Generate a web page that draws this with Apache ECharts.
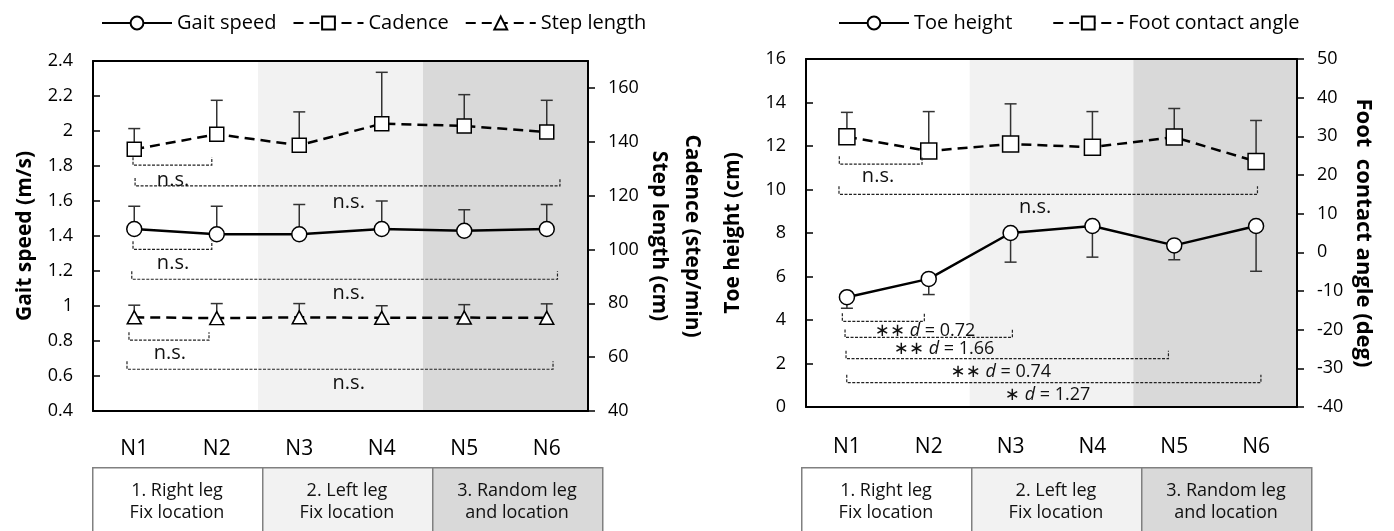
<!DOCTYPE html>
<html>
<head>
<meta charset="utf-8">
<script src="https://cdn.jsdelivr.net/npm/echarts@6/dist/echarts.min.js"></script>
<style>
  html, body { margin: 0; padding: 0; background: #fff; }
  #main { width: 1394px; height: 531px; }
</style>
</head>
<body>
<div id="main"></div>
<script>
const categories = ['N1', 'N2', 'N3', 'N4', 'N5', 'N6'];

// left panel (mean, SD)
const gaitSpeed = [1.44, 1.41, 1.41, 1.44, 1.43, 1.44];
const gaitSpeedSd = [0.13, 0.16, 0.17, 0.16, 0.12, 0.14];
const cadence = [137.2, 142.8, 138.7, 146.7, 145.9, 143.6];
const cadenceSd = [7.7, 12.6, 12.4, 19.1, 11.6, 11.8];
const stepLength = [74.8, 74.5, 74.8, 74.6, 74.7, 74.6];
const stepLengthSd = [4.5, 5.4, 5.1, 4.5, 4.8, 5.2];

// right panel (mean, SD)
const toeHeight = [5.05, 5.89, 8.0, 8.32, 7.43, 8.32];
const toeHeightSd = [0.51, 0.72, 1.34, 1.43, 0.66, 2.08];
const footAngle = [29.9, 26.2, 28.0, 27.2, 29.8, 23.5];
const footAngleSd = [6.3, 10.2, 10.4, 9.2, 7.4, 10.6];

// condition blocks (x range in category units)
const blocks = [[-0.5, 1.5], [1.5, 3.5], [3.5, 5.5]];
const blockNames = ['1. Right leg\nFix location', '2. Left leg\nFix location', '3. Random leg\nand location'];
const blockColors = ['#ffffff', '#f2f2f2', '#d9d9d9'];

// significance brackets: [from, to, level] (level in the axis of that series)
const gaitBrackets = [[-0.015, 0.94, 1.324], [-0.03, 5.13, 1.153]];
const cadenceBrackets = [[-0.015, 0.94, 131.3], [0.01, 5.16, 123.6]];
const stepBrackets = [[-0.064, 0.906, 66.3], [-0.088, 5.076, 55.5]];
const toeBrackets = [[-0.056, 0.946, 3.94], [-0.023, 2.022, 3.2], [-0.011, 3.929, 2.22], [-0.002, 5.059, 1.12]];
const footBrackets = [[-0.093, 0.918, 22.8], [-0.097, 5.017, 15.0]];

// notes: [x, y] and text
const gaitNotes = [[0.47, 1.244], [2.6, 1.073]];
const cadenceNotes = [[0.47, 125.7], [2.6, 117.5]];
const stepNotes = [[0.433, 61.4], [2.6, 50.3]];
const footNotes = [[0.38, 19.7], [2.3, 11.7]];
const toeNotes = [[0.955, 3.51], [1.187, 2.69], [1.881, 1.63], [2.452, 0.55]];
const toeNoteText = ['∗∗ {i|d} = 0.72', '∗∗ {i|d} = 1.66', '∗∗ {i|d} = 0.74', '∗ {i|d} = 1.27'];

const FONT = "'Open Sans', 'DejaVu Sans', sans-serif";
const chart = echarts.init(document.getElementById('main'));

function renderBand(params, api) {
  const cs = params.coordSys;
  const a = api.coord([api.value(0), api.value(2)]);
  const b = api.coord([api.value(1), api.value(2)]);
  return {
    type: 'rect',
    shape: {x: a[0], y: cs.y, width: b[0] - a[0], height: cs.height},
    style: {fill: blockColors[params.dataIndex]}
  };
}

function renderErr(params, api) {
  const a = api.coord([api.value(0), api.value(1)]);
  const b = api.coord([api.value(0), api.value(2)]);
  const st = {stroke: '#333', lineWidth: 1.5};
  return {
    type: 'group',
    children: [
      {type: 'line', shape: {x1: a[0], y1: a[1], x2: b[0], y2: b[1]}, style: st},
      {type: 'line', shape: {x1: b[0] - 6, y1: b[1], x2: b[0] + 6, y2: b[1]}, style: st}
    ]
  };
}

function renderBracket(params, api) {
  const a = api.coord([api.value(0), api.value(2)]);
  const b = api.coord([api.value(1), api.value(2)]);
  return {
    type: 'polyline',
    shape: {points: [[a[0], a[1] - 8], [a[0], a[1]], [b[0], b[1]], [b[0], b[1] - 8]]},
    style: {fill: null, stroke: '#222', lineWidth: 1.2, lineDash: [3, 1.5]}
  };
}

function noteRenderer(texts) {
  return function (params, api) {
    const p = api.coord([api.value(0), api.value(1)]);
    return {
      type: 'text',
      x: p[0], y: p[1],
      style: {
        text: texts ? texts[params.dataIndex] : 'n.s.',
        fill: '#111', font: (texts ? '18px ' : '20px ') + FONT,
        align: 'center', verticalAlign: 'middle',
        rich: {i: {fontStyle: 'italic', fontSize: 18, fontFamily: FONT}}
      }
    };
  };
}

function errData(mean, sd, sign) {
  return mean.map((m, i) => [i, m, m + sign * sd[i]]);
}

function catAxis(gi, margin) {
  return {
    type: 'category', gridIndex: gi, data: categories, boundaryGap: true, z: 5,
    axisLine: {onZero: false, lineStyle: {color: '#000', width: 2}},
    axisTick: {inside: true, length: 8, lineStyle: {color: '#000', width: 1.5}},
    axisLabel: {margin: margin, fontSize: 21, color: '#000', fontFamily: FONT}
  };
}

function topAxis(gi) {
  return {
    type: 'value', gridIndex: gi, position: 'top', min: -0.5, max: 5.5, z: 5,
    axisLine: {show: true, onZero: false, lineStyle: {color: '#000', width: 2}},
    axisTick: {show: false}, axisLabel: {show: false}, splitLine: {show: false}
  };
}

function valAxis(gi, pos, min, max, interval, name, gap, extra) {
  return Object.assign({
    type: 'value', gridIndex: gi, position: pos, min: min, max: max, interval: interval, z: 5,
    name: name, nameLocation: 'middle', nameGap: gap,
    nameRotate: pos === 'right' ? -90 : 90,
    nameTextStyle: {fontSize: 21, fontWeight: 'bold', color: '#000', fontFamily: FONT, lineHeight: 33},
    axisLine: {show: true, onZero: false, lineStyle: {color: '#000', width: 2}},
    axisTick: {show: true, inside: pos === 'left', length: 7, lineStyle: {color: '#000', width: 1.5}},
    axisLabel: {margin: 20, fontSize: 18, color: '#000', fontFamily: FONT},
    splitLine: {show: false}
  }, extra || {});
}

function lineSeries(name, data, xi, yi, symbol, size, dashed) {
  return {
    name: name, type: 'line', data: data, xAxisIndex: xi, yAxisIndex: yi, z: 3,
    symbol: symbol, symbolSize: size, showAllSymbol: true,
    itemStyle: {color: '#fff', borderColor: '#000', borderWidth: 1.5},
    lineStyle: {color: '#000', width: 2.5, type: dashed ? [10, 6] : 'solid'},
    emphasis: {disabled: true}
  };
}

function customSeries(xi, yi, data, render, encode, z) {
  return {type: 'custom', xAxisIndex: xi, yAxisIndex: yi, data: data, renderItem: render,
    encode: encode, z: z, silent: true};
}

const bandData = blocks.map(b => [b[0], b[1], 1]);
const legendText = {fontSize: 20, color: '#000', fontFamily: FONT};

const option = {
  animation: false,
  backgroundColor: '#fff',
  legend: [
    {data: ['Gait speed', 'Cadence', 'Step length'], left: 96, top: 8,
      itemWidth: 70, itemHeight: 16, itemGap: 16, textStyle: legendText, selectedMode: false},
    {data: ['Toe height', 'Foot contact angle'], left: 833, top: 8,
      itemWidth: 70, itemHeight: 16, itemGap: 40, textStyle: legendText, selectedMode: false}
  ],
  grid: [
    {left: 93, right: 806, top: 61, bottom: 120},
    {left: 806, right: 97, top: 59, bottom: 124}
  ],
  xAxis: [catAxis(0, 28), topAxis(0), catAxis(1, 30), topAxis(1)],
  yAxis: [
    valAxis(0, 'left', 0.4, 2.4, 0.2, 'Gait speed (m/s)', 51),
    valAxis(0, 'right', 40, 170, 20, 'Cadence (step/min)\nStep length (cm)', 53,
      {axisLabel: {margin: 20, fontSize: 18, color: '#000', fontFamily: FONT, showMaxLabel: false}}),
    valAxis(1, 'left', 0, 16, 2, 'Toe height (cm)', 56),
    valAxis(1, 'right', -40, 50, 10, 'Foot  contact angle (deg)', 55,
      {nameTextStyle: {fontSize: 22, fontWeight: 'bold', color: '#000', fontFamily: FONT}})
  ],
  graphic: [],
  series: [
    customSeries(1, 0, bandData, renderBand, {x: [0, 1], y: 2}, 1),
    customSeries(3, 2, bandData, renderBand, {x: [0, 1], y: 2}, 1),

    customSeries(1, 0, errData(gaitSpeed, gaitSpeedSd, 1), renderErr, {x: 0, y: [1, 2]}, 2),
    customSeries(1, 1, errData(cadence, cadenceSd, 1), renderErr, {x: 0, y: [1, 2]}, 2),
    customSeries(1, 1, errData(stepLength, stepLengthSd, 1), renderErr, {x: 0, y: [1, 2]}, 2),
    customSeries(3, 2, errData(toeHeight, toeHeightSd, -1), renderErr, {x: 0, y: [1, 2]}, 2),
    customSeries(3, 3, errData(footAngle, footAngleSd, 1), renderErr, {x: 0, y: [1, 2]}, 2),

    lineSeries('Gait speed', gaitSpeed, 0, 0, 'circle', 15, false),
    lineSeries('Cadence', cadence, 0, 1, 'rect', 14, true),
    lineSeries('Step length', stepLength, 0, 1, 'triangle', [14, 13], true),
    lineSeries('Toe height', toeHeight, 2, 2, 'circle', 15, false),
    lineSeries('Foot contact angle', footAngle, 2, 3, 'rect', 16, true),

    customSeries(1, 0, gaitBrackets, renderBracket, {x: [0, 1], y: 2}, 4),
    customSeries(1, 1, cadenceBrackets, renderBracket, {x: [0, 1], y: 2}, 4),
    customSeries(1, 1, stepBrackets, renderBracket, {x: [0, 1], y: 2}, 4),
    customSeries(3, 2, toeBrackets, renderBracket, {x: [0, 1], y: 2}, 4),
    customSeries(3, 3, footBrackets, renderBracket, {x: [0, 1], y: 2}, 4),

    customSeries(1, 0, gaitNotes, noteRenderer(null), {x: 0, y: 1}, 4),
    customSeries(1, 1, cadenceNotes, noteRenderer(null), {x: 0, y: 1}, 4),
    customSeries(1, 1, stepNotes, noteRenderer(null), {x: 0, y: 1}, 4),
    customSeries(3, 3, footNotes, noteRenderer(null), {x: 0, y: 1}, 4),
    customSeries(3, 2, toeNotes, noteRenderer(toeNoteText), {x: 0, y: 1}, 4)
  ]
};

// condition boxes under each panel
const panelsLeft = [92, 801];
panelsLeft.forEach(x0 => {
  blockNames.forEach((t, i) => {
    option.graphic.push({
      type: 'rect', left: x0 + i * 170, top: 467,
      shape: {width: 170, height: 80},
      style: {fill: blockColors[i], stroke: '#808080', lineWidth: 1.5}
    });
    option.graphic.push({
      type: 'text', x: x0 + i * 170 + 85, y: 502,
      style: {text: t, font: '18px ' + FONT, fill: '#111', align: 'center',
        verticalAlign: 'middle', lineHeight: 22}
    });
  });
});

chart.setOption(option);
</script>
</body>
</html>
